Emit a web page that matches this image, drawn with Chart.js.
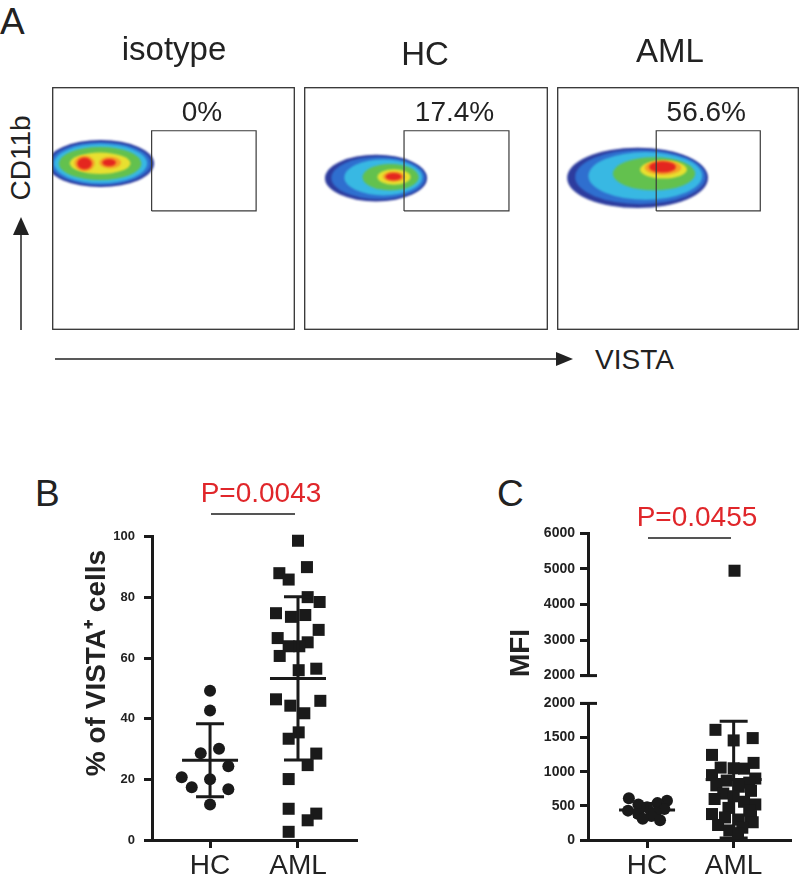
<!DOCTYPE html>
<html lang="en">
<head>
<meta charset="UTF-8">
<title>VISTA expression on CD11b+ cells</title>
<script src="https://cdn.jsdelivr.net/npm/chart.js"></script>
<style>
  body { margin: 0; background: #fff; font-family: "Liberation Sans", Arial, sans-serif; color: #222; }
  #fig { position: relative; width: 800px; height: 888px; overflow: hidden; }
  canvas, .t, svg { position: absolute; }
  .t { line-height: 1; white-space: nowrap; }
  .panel { font-size: 37px; }
  .red { color: #e0262a; font-size: 28px; transform: translateX(-50%); }
  .ytitle { font-size: 28px; font-weight: bold; transform: translate(-50%, -50%) rotate(-90deg); }
</style>
</head>
<body>
<div id="fig">
  <div class="t panel" style="left:0;top:3px">A</div>
  <div class="t panel" style="left:35px;top:475px">B</div>
  <div class="t panel" style="left:497px;top:475px">C</div>

  <canvas id="flow0" width="243" height="243" style="left:52px;top:87px"></canvas>
  <canvas id="flow1" width="244" height="243" style="left:304px;top:87px"></canvas>
  <canvas id="flow2" width="242" height="243" style="left:557px;top:87px"></canvas>

  <div class="t" style="left:21px;top:158px;font-size:28px;transform:translate(-50%,-50%) rotate(-90deg)">CD11b</div>
  <div class="t" style="left:595px;top:346px;font-size:28px">VISTA</div>

  <svg width="800" height="888" style="left:0;top:0">
    <line x1="21" y1="330" x2="21" y2="232" stroke="#222" stroke-width="1.5"/>
    <polygon points="21,217 13,235 29,235" fill="#222"/>
    <line x1="55" y1="359" x2="560" y2="359" stroke="#222" stroke-width="1.5"/>
    <polygon points="573,359 556,352 556,366" fill="#222"/>
    <line x1="211" y1="514" x2="295" y2="514" stroke="#555" stroke-width="2"/>
    <line x1="648" y1="538" x2="731" y2="538" stroke="#555" stroke-width="2"/>
  </svg>

  <div class="t red" style="left:261px;top:479px">P=0.0043</div>
  <div class="t red" style="left:697px;top:503px">P=0.0455</div>

  <div class="t ytitle" style="left:96px;top:663px">% of VISTA⁺ cells</div>
  <div class="t ytitle" style="left:520px;top:653px">MFI</div>

  <canvas id="vistaChart" width="267" height="370" style="left:100px;top:520px"></canvas>
  <canvas id="mfiHigh" width="300" height="169" style="left:500px;top:520px"></canvas>
  <canvas id="mfiLow" width="300" height="200" style="left:500px;top:690px"></canvas>
</div>

<script>
  // ---- data ----
  const groups = ['HC', 'AML'];

  // panel A: flow plots (VISTA vs CD11b, arbitrary 0-100 units)
  const flowSamples = ['isotype', 'HC', 'AML'];
  const flowPositive = ['0%', '17.4%', '56.6%'];
  const gateVista = [41, 84];
  const gateCd11b = [49, 82];
  // density contours: [level, vista centre, cd11b centre, vista half-width, cd11b half-height]
  const isotypeDensity = [
    [0, 20, 68.5, 22, 9.7], [1, 20, 68.5, 20.8, 8.9], [2, 20, 68.5, 19.2, 8.1],
    [3, 19.8, 68.5, 17, 6.8], [4, 19.8, 68.6, 12.5, 4.4],
    [5, 13.4, 68.5, 4.2, 3.2], [5, 23.9, 68.9, 4.5, 2.4],
    [6, 13.4, 68.5, 3, 2.5], [6, 23.5, 68.9, 2.8, 1.5]
  ];
  const hcDensity = [
    [0, 29.5, 62.5, 20.9, 9.6], [1, 30.5, 62.6, 19.3, 8.7], [2, 32.5, 62.8, 16, 7.4],
    [3, 35.5, 62.9, 11.5, 5.4], [4, 36.9, 63, 6.8, 3.2], [5, 36.8, 63.1, 4.5, 2.1],
    [6, 36.7, 63.1, 3.3, 1.5]
  ];
  const amlDensity = [
    [0, 33.3, 62.6, 29.1, 12.4], [1, 34.5, 63, 27, 11.2], [2, 36.5, 63.4, 23.5, 9.8],
    [3, 40.1, 64.3, 17, 6.8], [4, 44, 66, 9.7, 3.7], [5, 43.8, 66.8, 7.5, 3],
    [6, 43.6, 67.1, 5.5, 2.3]
  ];

  // panel B: % of VISTA+ cells
  const vistaTicks = [0, 20, 40, 60, 80, 100];
  const hcVista = [49.2, 42.7, 28.6, 30.1, 24.3, 20.7, 20.0, 17.4, 16.7, 11.7];
  const hcVistaJitter = [0, 0, -0.106, 0.102, 0.208, -0.322, 0, -0.208, 0.208, 0];
  const amlVista = [98.7, 90, 88, 85.9, 80.1, 78.5, 74.8, 73.6, 74.2, 69.3,
                    66.6, 65.2, 63.9, 63.9, 60.7, 56, 56.5, 46.4, 45.9, 44.3,
                    41.8, 35.5, 33.4, 28.5, 24.7, 20.1, 10.3, 8.7, 6.5, 2.7];
  const amlVistaJitter = [0, 0.102, -0.212, -0.106, 0.11, 0.246, -0.25, -0.08, 0.083, 0.235,
                          -0.231, 0.11, -0.106, 0.015, -0.208, 0.008, 0.208, -0.25, 0.254, -0.087,
                          0.072, 0.008, -0.106, 0.208, 0.11, -0.106, -0.106, 0.208, 0.11, -0.106];
  const vistaMean = [26.3, 53.3];
  const vistaSD = [12.0, 26.9];

  // panel C: MFI (broken axis)
  const mfiLowTicks = [0, 500, 1000, 1500, 2000];
  const mfiHighTicks = [2000, 3000, 4000, 5000, 6000];
  const hcMfi = [611, 574, 540, 520, 480, 455, 430, 400, 380, 350, 310, 290];
  const hcMfiJitter = [-0.21, 0.23, 0.12, -0.1, 0, 0.2, -0.22, 0.1, -0.1, 0.05, -0.05, 0.15];
  const amlMfi = [4950, 1613, 1492, 1458, 1246, 1129, 1060, 1050, 1045, 950, 900,
                  870, 840, 800, 780, 720, 680, 640, 600, 560, 520,
                  470, 430, 380, 350, 330, 300, 260, 220, 180, 140, 100];
  const amlMfiJitter = [0.01, -0.21, 0.22, 0, -0.25, 0.23, -0.15, 0, 0.12, -0.25, 0.25,
                        -0.08, 0.18, -0.2, 0.06, 0.2, -0.12, 0, -0.22, 0.12, 0.25,
                        -0.06, 0.18, -0.25, 0.2, -0.1, 0.06, 0.22, -0.18, 0.1, -0.05, 0.05];
  const mfiMean = [440, 885];
  const mfiSD = [95, 855];

  // ---- drawing ----
  const FONT = '"Liberation Sans", Arial, sans-serif';
  const INK = '#1a1a1a';
  const densityColors = ['#2d3c9e', '#2f6fcf', '#38b8e3', '#63c14e', '#e8e030', '#f5a027', '#e4261f'];

  const density = {
    id: 'density',
    beforeDatasetsDraw(chart, args, o) {
      const { ctx, chartArea: a, scales: { x, y } } = chart;
      ctx.save();
      ctx.beginPath();
      ctx.rect(a.left, a.top, a.width, a.height);
      ctx.clip();
      ctx.filter = 'blur(1px)';
      o.blobs.slice().sort((p, q) => p[0] - q[0]).forEach(([lv, cx, cy, rx, ry]) => {
        const px = x.getPixelForValue(cx), py = y.getPixelForValue(cy);
        const w = x.getPixelForValue(cx + rx) - px;
        const h = py - y.getPixelForValue(cy + ry);
        ctx.fillStyle = densityColors[lv];
        ctx.beginPath();
        ctx.ellipse(px, py, w, h, 0, 0, Math.PI * 2);
        ctx.fill();
      });
      ctx.restore();
    },
    afterDraw(chart, args, o) {
      const { ctx, chartArea: a, scales: { x, y } } = chart;
      ctx.save();
      ctx.strokeStyle = '#333';
      ctx.lineWidth = 1.3;
      ctx.strokeRect(a.left + 0.7, a.top + 0.7, a.width - 1.4, a.height - 1.4);
      ctx.fillStyle = '#222';
      ctx.font = '28px ' + FONT;
      ctx.textAlign = 'center';
      ctx.fillText(o.label, x.getPixelForValue((gateVista[0] + gateVista[1]) / 2) - 2,
                   y.getPixelForValue(gateCd11b[1]) - 10);
      ctx.restore();
    }
  };

  const errorBars = {
    id: 'errorBars',
    afterDatasetsDraw(chart, args, o) {
      if (!o.means) return;
      const { ctx, scales: { x, y } } = chart;
      ctx.save();
      ctx.strokeStyle = INK;
      ctx.lineWidth = 3;
      o.means.forEach((m, i) => {
        const cx = x.getPixelForValue(i + 1);
        const pm = y.getPixelForValue(m);
        const pt = y.getPixelForValue(m + o.sds[i]);
        const pb = y.getPixelForValue(m - o.sds[i]);
        ctx.beginPath();
        ctx.moveTo(cx, pt); ctx.lineTo(cx, pb);
        ctx.moveTo(cx - 28, pm); ctx.lineTo(cx + 28, pm);
        ctx.moveTo(cx - 14, pt); ctx.lineTo(cx + 14, pt);
        ctx.moveTo(cx - 14, pb); ctx.lineTo(cx + 14, pb);
        ctx.stroke();
      });
      ctx.restore();
    }
  };

  const axisBreak = {
    id: 'axisBreak',
    afterDraw(chart, args, o) {
      if (o.at === undefined) return;
      const { ctx, chartArea: a, scales: { y } } = chart;
      const py = y.getPixelForValue(o.at);
      ctx.save();
      ctx.strokeStyle = INK;
      ctx.lineWidth = 3;
      ctx.beginPath();
      ctx.moveTo(a.left - 8, py);
      ctx.lineTo(a.left + 9, py);
      ctx.stroke();
      ctx.restore();
    }
  };

  function pointsOf(vals, jit, g) {
    return vals.map((v, i) => ({ x: g + jit[i], y: v }));
  }

  function yAxis(ticks, width, size, pad) {
    return {
      min: ticks[0], max: ticks[ticks.length - 1],
      afterBuildTicks: s => { s.ticks = ticks.map(v => ({ value: v })); },
      afterFit: s => { s.width = width; },
      border: { color: INK, width: 3 },
      grid: { drawOnChartArea: false, tickLength: 8, tickWidth: 3, tickColor: INK },
      ticks: { callback: v => String(v), font: { family: FONT, size: size, weight: 'bold' }, color: '#222', padding: pad }
    };
  }

  function xAxis(min, max, show) {
    return {
      type: 'linear', min: min, max: max, display: show,
      afterBuildTicks: s => { s.ticks = [{ value: 1 }, { value: 2 }]; },
      afterFit: s => { s.height = show ? 50 : 0; },
      border: { color: INK, width: 3 },
      grid: { drawOnChartArea: false, tickLength: 8, tickWidth: 3, tickColor: INK },
      ticks: { callback: v => groups[v - 1], font: { family: FONT, size: 28 }, color: '#222', padding: 1, maxRotation: 0, autoSkip: false }
    };
  }

  function groupSets(hcVals, hcJit, amlVals, amlJit) {
    return [
      { data: pointsOf(hcVals, hcJit, 1), pointStyle: 'circle', pointRadius: 6, backgroundColor: INK, borderWidth: 0, clip: false },
      { data: pointsOf(amlVals, amlJit, 2), pointStyle: 'rect', pointRadius: 8.5, backgroundColor: INK, borderWidth: 0, clip: false }
    ];
  }

  const common = { responsive: false, animation: false, events: [] };
  Chart.defaults.font.family = FONT;

  // panel A
  [isotypeDensity, hcDensity, amlDensity].forEach((blobs, i) => {
    const gate = [[0, 0], [1, 0], [1, 1], [0, 1], [0, 0]].map(([a, b]) => ({ x: gateVista[a], y: gateCd11b[b] }));
    new Chart(document.getElementById('flow' + i), {
      type: 'scatter',
      data: { datasets: [{ data: gate, showLine: true, pointRadius: 0, borderColor: '#3a3a3a', borderWidth: 1.2, tension: 0 }] },
      options: {
        ...common,
        layout: { padding: 0 },
        scales: { x: { min: 0, max: 100, display: false }, y: { min: 0, max: 100, display: false } },
        plugins: { legend: { display: false }, tooltip: { enabled: false }, density: { blobs: blobs, label: flowPositive[i] } }
      },
      plugins: [density]
    });
  });

  const titleCenters = [174, 425, 670];
  const titleTops = [32, 37, 34];
  flowSamples.forEach((s, i) => {
    const d = document.createElement('div');
    d.className = 't';
    d.textContent = s;
    d.style.cssText = `left:${titleCenters[i]}px;top:${titleTops[i]}px;font-size:33px;transform:translateX(-50%)`;
    document.getElementById('fig').appendChild(d);
  });

  // panel B
  new Chart(document.getElementById('vistaChart'), {
    type: 'scatter',
    data: { datasets: groupSets(hcVista, hcVistaJitter, amlVista, amlVistaJitter) },
    options: {
      ...common,
      layout: { padding: { top: 13, right: 10, left: 0, bottom: 0 } },
      scales: { x: xAxis(0.34, 2.671, true), y: yAxis(vistaTicks, 52, 13, 9) },
      plugins: { legend: { display: false }, tooltip: { enabled: false }, errorBars: { means: vistaMean, sds: vistaSD } }
    },
    plugins: [errorBars]
  });

  // panel C, upper segment (2000-6000)
  const hiCut = mfiHighTicks[0];
  new Chart(document.getElementById('mfiHigh'), {
    type: 'scatter',
    data: { datasets: groupSets(
      hcMfi.filter(v => v > hiCut), hcMfiJitter.filter((j, i) => hcMfi[i] > hiCut),
      amlMfi.filter(v => v > hiCut), amlMfiJitter.filter((j, i) => amlMfi[i] > hiCut)) },
    options: {
      ...common,
      layout: { padding: { top: 13, right: 5, left: 0, bottom: 5 } },
      scales: { x: xAxis(0.318, 2.668, false), y: yAxis(mfiHighTicks, 88, 14, 5) },
      plugins: { legend: { display: false }, tooltip: { enabled: false }, axisBreak: { at: hiCut } }
    },
    plugins: [axisBreak]
  });

  // panel C, lower segment (0-2000)
  new Chart(document.getElementById('mfiLow'), {
    type: 'scatter',
    data: { datasets: groupSets(
      hcMfi.filter(v => v <= hiCut), hcMfiJitter.filter((j, i) => hcMfi[i] <= hiCut),
      amlMfi.filter(v => v <= hiCut), amlMfiJitter.filter((j, i) => amlMfi[i] <= hiCut)) },
    options: {
      ...common,
      layout: { padding: { top: 8, right: 5, left: 0, bottom: 0 } },
      scales: { x: xAxis(0.318, 2.668, true), y: yAxis(mfiLowTicks, 88, 14, 5) },
      plugins: { legend: { display: false }, tooltip: { enabled: false },
                 errorBars: { means: mfiMean, sds: mfiSD }, axisBreak: { at: mfiLowTicks[mfiLowTicks.length - 1] } }
    },
    plugins: [errorBars, axisBreak]
  });
</script>
</body>
</html>
